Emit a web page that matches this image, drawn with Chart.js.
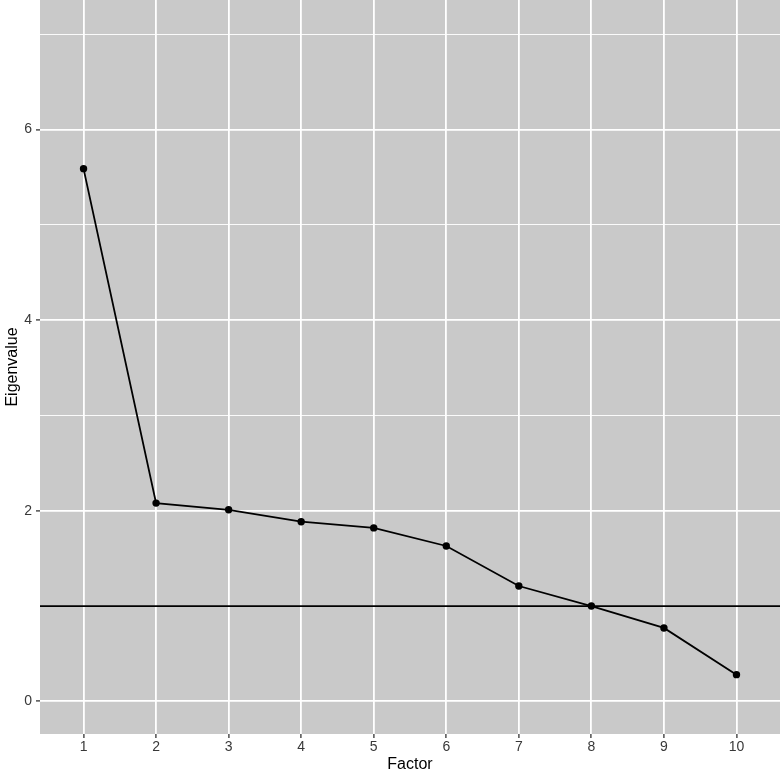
<!DOCTYPE html>
<html>
<head>
<meta charset="utf-8">
<script src="https://cdn.jsdelivr.net/npm/chart.js@4/dist/chart.umd.min.js"></script>
<style>
html,body{margin:0;padding:0;background:#fff;}
#wrap{width:780px;height:774px;position:relative;}
</style>
</head>
<body>
<div id="wrap"><canvas id="c" width="780" height="774"></canvas></div>
<script>
const factors = [1, 2, 3, 4, 5, 6, 7, 8, 9, 10];
const eigenvalues = [5.59, 2.08, 2.01, 1.885, 1.82, 1.63, 1.21, 1.00, 0.77, 0.28];
const thresholdValue = 1;
const xTickValues = [1, 2, 3, 4, 5, 6, 7, 8, 9, 10];
const yTickValues = [0, 1, 2, 3, 4, 5, 6, 7];
const yLabelledTicks = [0, 2, 4, 6];
const xRange = [0.4, 10.6];
const yRange = [-0.343, 7.36];

const bgPlugin = {
  id: 'panelBg',
  beforeDraw(chart) {
    const {ctx, chartArea: a} = chart;
    ctx.save();
    ctx.fillStyle = '#C9C9C9';
    ctx.fillRect(a.left, a.top, a.right - a.left, a.bottom - a.top);
    ctx.restore();
  }
};

const FONT = 'Liberation Sans, Arial, sans-serif';

new Chart(document.getElementById('c'), {
  type: 'line',
  data: {
    datasets: [
      {
        data: xRange.map(x => ({x, y: thresholdValue})),
        borderColor: '#000',
        borderWidth: 1.8,
        pointRadius: 0,
        fill: false,
        order: 2
      },
      {
        data: factors.map((f, i) => ({x: f, y: eigenvalues[i]})),
        borderColor: '#000',
        backgroundColor: '#000',
        borderWidth: 1.8,
        pointRadius: 3.7,
        pointBorderWidth: 0,
        tension: 0,
        fill: false,
        order: 1
      }
    ]
  },
  options: {
    responsive: false,
    animation: false,
    events: [],
    layout: {padding: 0, autoPadding: false},
    plugins: {legend: {display: false}, tooltip: {enabled: false}},
    scales: {
      x: {
        type: 'linear',
        min: xRange[0],
        max: xRange[1],
        afterBuildTicks(scale) { scale.ticks = xTickValues.map(v => ({value: v})); },
        afterFit(scale) { scale.height = 40; scale.paddingLeft = 0; scale.paddingRight = 0; },
        border: {display: false},
        grid: {
          color: '#FFFFFF',
          lineWidth: 1.8,
          drawTicks: true,
          tickLength: 4,
          tickColor: '#333333',
          tickWidth: 1.3
        },
        ticks: {
          color: '#383838',
          font: {family: FONT, size: 14},
          padding: 1,
          maxRotation: 0,
          autoSkip: false,
          callback: v => String(v)
        },
        title: {
          display: true,
          text: 'Factor',
          color: '#000',
          font: {family: FONT, size: 16},
          padding: {top: 0, bottom: 0}
        }
      },
      y: {
        type: 'linear',
        min: yRange[0],
        max: yRange[1],
        afterBuildTicks(scale) { scale.ticks = yTickValues.map(v => ({value: v})); },
        afterFit(scale) { scale.width = 40; scale.paddingTop = 0; scale.paddingBottom = 0; },
        border: {display: false},
        grid: {
          color: '#FFFFFF',
          lineWidth: ctx => (yLabelledTicks.includes(ctx.tick.value) ? 1.8 : 0.9),
          drawTicks: true,
          tickLength: 4,
          tickColor: ctx => (yLabelledTicks.includes(ctx.tick.value) ? '#333333' : 'rgba(0,0,0,0)'),
          tickWidth: 1.3
        },
        ticks: {
          color: '#383838',
          font: {family: FONT, size: 14},
          padding: 4,
          autoSkip: false,
          callback: v => (yLabelledTicks.includes(v) ? String(v) : '')
        },
        title: {
          display: true,
          text: 'Eigenvalue',
          color: '#000',
          font: {family: FONT, size: 16},
          padding: {top: 3, bottom: 0}
        }
      }
    }
  },
  plugins: [bgPlugin]
});
</script>
</body>
</html>
